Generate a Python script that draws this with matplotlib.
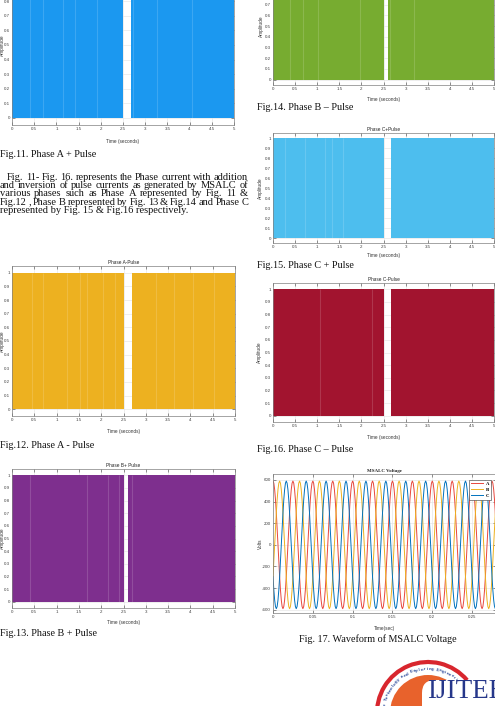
import numpy as np
import matplotlib
matplotlib.use("Agg")
import matplotlib.pyplot as plt
from matplotlib.patches import Circle, Arc, FancyBboxPatch

W, H = 495, 706

# ---- pulse figures (Fig.11 - Fig.16) ----
time_end = 5.0
pulse_level = 1.0
x_ticks = [0, 0.5, 1, 1.5, 2, 2.5, 3, 3.5, 4, 4.5, 5]
x_tick_labels = ["0", "0.5", "1", "1.5", "2", "2.5", "3", "3.5", "4", "4.5", "5"]
y_ticks = [0, 0.1, 0.2, 0.3, 0.4, 0.5, 0.6, 0.7, 0.8, 0.9, 1]
y_tick_labels = ["0", "0.1", "0.2", "0.3", "0.4", "0.5", "0.6", "0.7", "0.8", "0.9", "1"]

# switched-off window (start, end) in seconds
gap_11 = (2.50, 2.68)
gap_12 = (2.52, 2.68)
gap_13 = (2.52, 2.59)
gap_14 = (2.51, 2.60)
gap_15 = (2.52, 2.66)
gap_16 = (2.52, 2.66)

# faint pulse edges visible inside the filled band
edges_11 = [0.41, 0.70, 1.15, 1.42, 1.91, 2.72, 3.27, 4.05]
edges_12 = [0.45, 0.70, 1.24, 1.53, 1.69, 2.05, 2.32, 3.22, 3.63, 4.05, 4.53]
edges_13 = [0.41, 1.69, 2.16, 2.39, 2.70]
edges_14 = [0.38, 0.68, 1.02, 1.97, 2.65, 3.20]
edges_15 = [0.27, 0.72, 1.17, 1.33, 1.58]
edges_16 = [1.06, 2.23]

volt_cycle_a = [590, 570, 511, 417, 295, 153, 0, -153, -295, -417, -511, -570,
                -590, -570, -511, -417, -295, -153, 0, 153, 295, 417, 511, 570]
cycle_period = 0.025   # s
n_cycles = 12
phase_names = ["A", "B", "C"]
phase_colors = ["#e8473d", "#edb120", "#0072bd"]
volt_ticks = [-600, -400, -200, 0, 200, 400, 600]
volt_tick_labels = ["-600", "-400", "-200", "0", "200", "400", "600"]
vt_ticks = [0, 0.05, 0.1, 0.15, 0.2, 0.25]
vt_tick_labels = ["0", "0.05", "0.1", "0.15", "0.2", "0.25"]

paragraph = [
    "Fig. 11- Fig. 16. represents the Phase current with addition",
    "and inversion of pulse currents as generated by MSALC of",
    "various phases  such as Phase A represented by Fig. 11 &",
    "Fig.12 , Phase B represented by Fig. 13 & Fig.14 and Phase C",
    "represented by Fig. 15 & Fig.16 respectively.",
]

SANS = "Liberation Sans"
SERIF = "Liberation Serif"

fig = plt.figure(figsize=(W / 100, H / 100), dpi=100)
fig.patch.set_facecolor("white")


def px_rect(x0, y0, x1, y1):
    return [x0 / W, 1 - y1 / H, (x1 - x0) / W, (y1 - y0) / H]


def style(ax, box, ylab_x, xlab_y):
    x0, y0, x1, y1 = box
    ax.tick_params(direction="in", length=2, width=0.4, top=True, right=True,
                   labelsize=3.2, pad=1.5, colors="#404040")
    for s in ax.spines.values():
        s.set_linewidth(0.5)
        s.set_color("#808080")
    ax.grid(True, color="#e2e2e2", lw=0.4)
    ax.set_axisbelow(True)
    for t in ax.get_xticklabels() + ax.get_yticklabels():
        t.set_fontfamily(SANS)
    ax.yaxis.set_label_coords(-(x0 - ylab_x - 2) / (x1 - x0), 0.5)
    ax.xaxis.set_label_coords(0.5, -(xlab_y - y1 - 2) / (y1 - y0))


def pulse_panel(box, color, gap, edges, title, ylab_x, xlab_y):
    ax = fig.add_axes(px_rect(*box))
    for a, b in [(0.0, gap[0]), (gap[1], time_end)]:
        ax.fill_between([a, b], 0, pulse_level, color=color, lw=0, zorder=2)
    ax.vlines(edges, 0, pulse_level, color="white", alpha=0.15, lw=0.8, zorder=3)
    ax.set_xlim(0, time_end)
    ax.set_ylim(-0.05, 1.05)
    ax.set_xticks(x_ticks, x_tick_labels)
    ax.set_yticks(y_ticks, y_tick_labels)
    ax.set_title(title, fontsize=3.4, fontfamily=SANS, pad=1.2, color="#222")
    ax.set_xlabel("Time (seconds)", fontsize=3.4, fontfamily=SANS, color="#333")
    ax.set_ylabel("Amplitude", fontsize=3.4, fontfamily=SANS, color="#333")
    style(ax, box, ylab_x, xlab_y)
    return ax


pulse_panel((12, -35, 234, 125), "#1b98f0", gap_11, edges_11, "Phase A+Pulse", 2.5, 141)
pulse_panel((273, -33, 494, 85), "#77ac30", gap_14, edges_14, "Phase B-Pulse", 262, 99)
pulse_panel((273, 133, 494, 243), "#4dbeee", gap_15, edges_15, "Phase C+Pulse", 261, 255)
pulse_panel((12, 266, 235, 416), "#edb120", gap_12, edges_12, "Phase A-Pulse", 2.5, 431)
pulse_panel((273, 283, 494, 422), "#a2142f", gap_16, edges_16, "Phase C-Pulse", 260, 437)
pulse_panel((12, 469, 235, 608), "#7e2f8e", gap_13, edges_13, "Phase B+ Pulse", 2.5, 622)

# ---- Fig.17 voltage ----
vbox = (273, 474, 496, 613)
axv = fig.add_axes(px_rect(*vbox))
n = len(volt_cycle_a)
t = np.arange(n * n_cycles + 1) * cycle_period / n
shifts = [0, n // 3, 2 * n // 3]
for name, col, sh in zip(phase_names, phase_colors, shifts):
    cyc = np.roll(volt_cycle_a, sh)
    v = np.append(np.tile(cyc, n_cycles), cyc[0])
    axv.plot(t, v, color=col, lw=0.7, label=name)
axv.set_xlim(0, 0.28)
axv.set_ylim(-630, 655)
axv.set_xticks(vt_ticks, vt_tick_labels)
axv.set_yticks(volt_ticks, volt_tick_labels)
axv.set_title("MSALC Voltage", fontsize=3.6, fontfamily=SERIF, fontweight="bold",
              pad=1.5, color="#222")
axv.set_xlabel("Time(sec)", fontsize=3.4, fontfamily=SANS, color="#333")
axv.set_ylabel("Volts", fontsize=3.4, fontfamily=SANS, color="#333")
style(axv, vbox, 261, 628)
leg = axv.legend(loc="upper right", bbox_to_anchor=(0.99, 0.975),
                 prop={"family": SERIF, "size": 3.4, "weight": "bold"},
                 handlelength=2.6, handletextpad=0.6, borderpad=0.4, labelspacing=0.35,
                 fancybox=False, edgecolor="#333333", framealpha=1)
leg.get_frame().set_linewidth(0.4)

# ---- page text and logo (overlay in pixel units) ----
ov = fig.add_axes([0, 0, 1, 1])
ov.set_xlim(0, W)
ov.set_ylim(H, 0)
ov.set_axis_off()

cap = dict(fontfamily=SERIF, fontsize=7.3, color="#111", va="center")
ov.text(0, 154.5, "Fig.11. Phase A + Pulse", **cap)
ov.text(257, 107.5, "Fig.14. Phase B \u2013 Pulse", **cap)
ov.text(257, 265.5, "Fig.15. Phase C + Pulse", **cap)
ov.text(0, 445, "Fig.12. Phase A - Pulse", **cap)
ov.text(257, 450, "Fig.16. Phase C \u2013 Pulse", **cap)
ov.text(0, 634, "Fig.13. Phase B + Pulse", **cap)
ov.text(378, 639, "Fig. 17. Waveform of MSALC Voltage", ha="center", **cap)

renderer = fig.canvas.get_renderer()
para_font = dict(fontfamily=SERIF, fontsize=7.45, color="#111", va="center", ha="left")
line_y = [177, 185.4, 193.8, 202.2, 210.6]
for i, (line, y) in enumerate(zip(paragraph, line_y)):
    x_left = 7 if i == 0 else 0
    if i == len(paragraph) - 1:
        ov.text(x_left, y, line, **para_font)
        continue
    words = line.split()
    texts = [ov.text(0, y, w, **para_font) for w in words]
    widths = [tx.get_window_extent(renderer).width for tx in texts]
    gap = (248 - x_left - sum(widths)) / (len(words) - 1)
    x = x_left
    for tx, w in zip(texts, widths):
        tx.set_x(x)
        x += w + gap

# logo
cx, cy = 428, 713
ov.add_patch(Circle((cx, cy), 38, color="#e8622c", lw=0, zorder=2))
ov.add_patch(Arc((cx, cy), 102, 102, theta1=-185, theta2=-40, color="#d8262e", lw=3, zorder=2))
ring = "ive Technology and Exploring Engineering"
a0, step = 176, 3.4
for i, ch in enumerate(ring):
    a = np.deg2rad(a0 - i * step)
    ov.text(cx + 44 * np.cos(a), cy - 44 * np.sin(a), ch, rotation=a0 - i * step - 90,
            ha="center", va="center", fontsize=3.2, fontfamily=SANS, color="#2b4a9c",
            fontweight="bold", zorder=3)
ov.add_patch(FancyBboxPatch((422, 680), 90, 40, boxstyle="round,pad=0,rounding_size=13",
                            fc="white", ec="none", zorder=4))
ov.text(427, 691, "IJITEE", fontfamily=SERIF, fontsize=19.5, color="#26378a",
        va="center", ha="left", zorder=5)

fig.savefig("out.png", dpi=100)
